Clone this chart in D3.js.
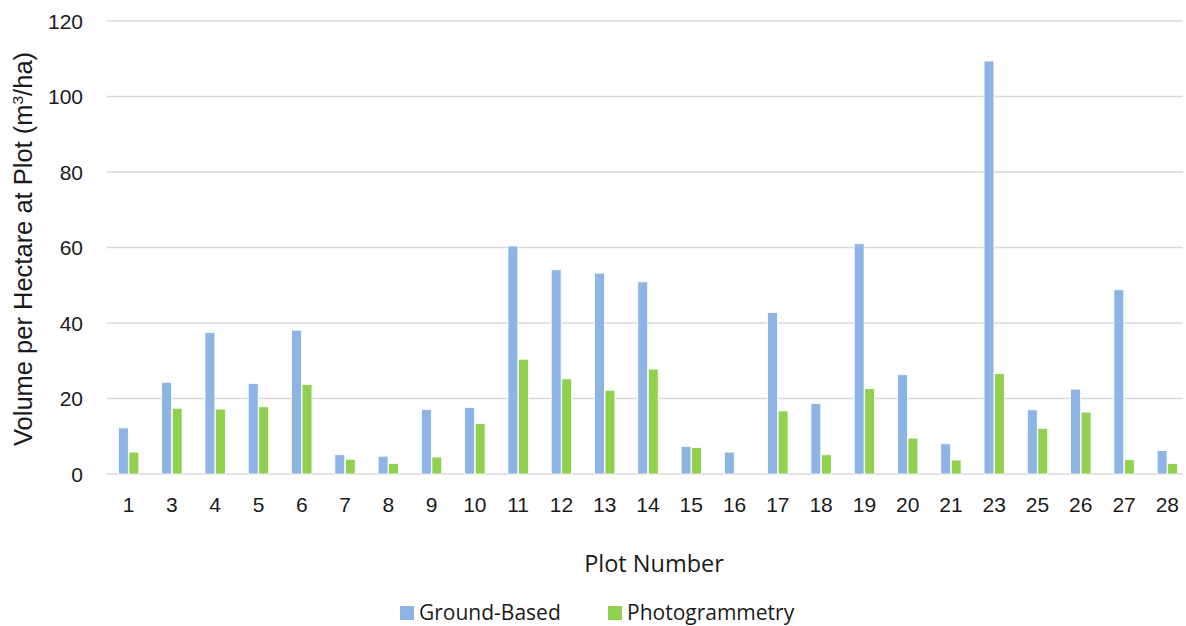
<!DOCTYPE html>
<html>
<head>
<meta charset="utf-8">
<script src="https://cdn.jsdelivr.net/npm/d3@7"></script>
<style>
  html, body { margin: 0; padding: 0; background: #fff; }
  svg { display: block; }
</style>
</head>
<body>
<svg id="chart" width="1186" height="626"></svg>
<script>
// Plot numbers and stand volume per hectare (m³/ha) by method
const plots = ["1","3","4","5","6","7","8","9","10","11","12","13","14","15","16","17","18","19","20","21","23","25","26","27","28"];
const groundBased = [12.2,24.3,37.5,24.0,38.1,5.1,4.7,17.1,17.6,60.4,54.1,53.2,50.9,7.3,5.8,42.8,18.7,61.0,26.3,8.0,109.4,17.0,22.5,48.8,6.2];
const photogrammetry = [5.8,17.4,17.2,17.8,23.7,3.9,2.8,4.5,13.4,30.4,25.2,22.2,27.8,7.0,0,16.7,5.1,22.6,9.5,3.7,26.6,12.1,16.4,3.8,2.8];
const yTicks = [0,20,40,60,80,100,120];
const seriesNames = ["Ground-Based","Photogrammetry"];
const seriesColors = ["#8EB4E3","#92D050"];

const svg = d3.select("#chart");
const plotLeft = 107, plotRight = 1189, gridRight = 1183, plotTop = 21, plotBottom = 474;

const x = d3.scaleBand().domain(plots).range([plotLeft, plotRight]).paddingInner(0.5).paddingOuter(0.25);
const xs = d3.scaleBand().domain(seriesNames).range([0, x.bandwidth()]).padding(0.06);
const y = d3.scaleLinear().domain([0,120]).range([plotBottom, plotTop]);

// horizontal gridlines
svg.append("g").selectAll("line").data(yTicks).join("line")
  .attr("x1", plotLeft).attr("x2", gridRight)
  .attr("y1", d => y(d)).attr("y2", d => y(d))
  .attr("stroke", "#d9d9d9").attr("stroke-width", 1.3);

// y tick labels
svg.append("g").selectAll("text").data(yTicks).join("text")
  .attr("x", 83).attr("y", d => y(d)).attr("dy", "0.36em")
  .attr("text-anchor", "end")
  .attr("font-family", "Liberation Sans, Arial, sans-serif").attr("font-size", 21)
  .attr("fill", "#1a1a1a")
  .text(d => d);

// bars
const rows = plots.map((p, i) => ({ plot: p, values: [groundBased[i], photogrammetry[i]] }));
const groups = svg.append("g").selectAll("g").data(rows).join("g")
  .attr("transform", d => `translate(${x(d.plot)},0)`);
groups.selectAll("rect").data(d => d.values.map((v, k) => ({ v, k })))
  .join("rect")
  .attr("x", d => xs(seriesNames[d.k]))
  .attr("width", xs.bandwidth())
  .attr("y", d => y(d.v))
  .attr("height", d => y(0) - y(d.v))
  .attr("fill", d => seriesColors[d.k])
  .attr("stroke", d => d.v > 0 ? "#ffffff" : "none")
  .attr("stroke-width", 0.8);

// x tick labels
svg.append("g").selectAll("text").data(plots).join("text")
  .attr("x", d => x(d) + x.bandwidth() / 2).attr("y", 512)
  .attr("text-anchor", "middle")
  .attr("font-family", "Liberation Sans, Arial, sans-serif").attr("font-size", 21)
  .attr("fill", "#1a1a1a")
  .text(d => d);

// y axis title
const yt = svg.append("text")
  .attr("transform", `translate(32,249) rotate(-90)`)
  .attr("text-anchor", "middle")
  .attr("font-family", "Liberation Sans, Arial, sans-serif").attr("font-size", 25.5)
  .attr("fill", "#1a1a1a");
yt.append("tspan").text("Volume per Hectare at Plot (m");
yt.append("tspan").attr("font-size", 15.5).attr("dy", -9).text("3");
yt.append("tspan").attr("dy", 9).text("/ha)");

// x axis title
svg.append("text")
  .attr("x", 654).attr("y", 572)
  .attr("text-anchor", "middle")
  .attr("font-family", "Open Sans, sans-serif").attr("font-size", 23.5)
  .attr("fill", "#1a1a1a")
  .text("Plot Number");

// legend
const legendX = [400, 608];
const legend = svg.append("g").selectAll("g").data(seriesNames).join("g")
  .attr("transform", (d, i) => `translate(${legendX[i]},606)`);
legend.append("rect").attr("width", 14).attr("height", 14)
  .attr("fill", (d, i) => seriesColors[i]);
legend.append("text").attr("x", 19).attr("y", 14)
  .attr("font-family", "Open Sans, sans-serif").attr("font-size", 21)
  .attr("fill", "#1a1a1a")
  .text(d => d);
</script>
</body>
</html>
